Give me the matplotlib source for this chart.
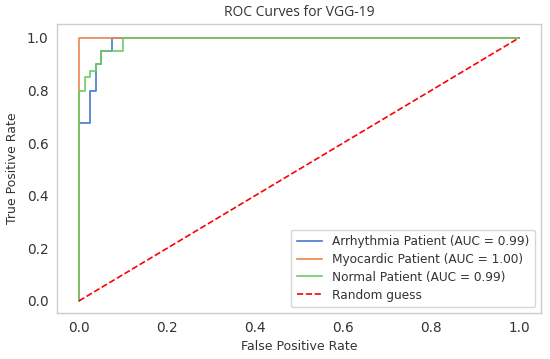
import matplotlib
matplotlib.use("Agg")
import matplotlib.pyplot as plt

# ROC data
arr_fpr = [0, 0, 0.025, 0.025, 0.0375, 0.0375, 0.05, 0.05, 0.075, 0.075, 1]
arr_tpr = [0, 0.675, 0.675, 0.8, 0.8, 0.9, 0.9, 0.95, 0.95, 1, 1]
myo_fpr = [0, 0, 1]
myo_tpr = [0, 1, 1]
nor_fpr = [0, 0, 0.0125, 0.0125, 0.025, 0.025, 0.0375, 0.0375, 0.05, 0.05, 0.1, 0.1, 1]
nor_tpr = [0, 0.8, 0.8, 0.85, 0.85, 0.875, 0.875, 0.9, 0.9, 0.95, 0.95, 1, 1]
rand_x = [0, 1]
rand_y = [0, 1]

labels = ["Arrhythmia Patient (AUC = 0.99)",
          "Myocardic Patient (AUC = 1.00)",
          "Normal Patient (AUC = 0.99)",
          "Random guess"]
colors = ["#4878d0", "#ee854a", "#6acc64", "red"]

text_c = "#333333"
plt.rcParams["font.family"] = ["DejaVu Sans"]

fig = plt.figure(figsize=(5.5, 3.59), dpi=100)
ax = fig.add_axes([57/550, 1 - 313/359, (541-57)/550, (313-24)/359])

ax.plot(arr_fpr, arr_tpr, color=colors[0], lw=1.2, label=labels[0])
ax.plot(myo_fpr, myo_tpr, color=colors[1], lw=1.2, label=labels[1])
ax.plot(nor_fpr, nor_tpr, color=colors[2], lw=1.2, label=labels[2])
ax.plot(rand_x, rand_y, color=colors[3], lw=1.2, ls="--", label=labels[3])

ax.set_xlim(-0.05, 1.05)
ax.set_ylim(-0.046, 1.053)
ax.set_xticks([0, 0.2, 0.4, 0.6, 0.8, 1.0])
ax.set_yticks([0, 0.2, 0.4, 0.6, 0.8, 1.0])
ax.tick_params(length=0, labelsize=9.8, colors=text_c, pad=6)
for s in ax.spines.values():
    s.set_color("#cccccc")
    s.set_linewidth(1.0)

ax.set_xlabel("False Positive Rate", fontsize=9, color=text_c, labelpad=3)
ax.set_ylabel("True Positive Rate", fontsize=9, color=text_c, labelpad=6)
ax.set_title("ROC Curves for VGG-19", fontsize=10, color=text_c,
             family="Open Sans", pad=6)

leg = ax.legend(loc="lower right", fontsize=8.7, frameon=True,
                handlelength=2.15, borderpad=0.45, labelspacing=0.4)
leg.get_frame().set_edgecolor("#cccccc")
for t in leg.get_texts():
    t.set_color(text_c)

fig.savefig("out.png", dpi=100)
